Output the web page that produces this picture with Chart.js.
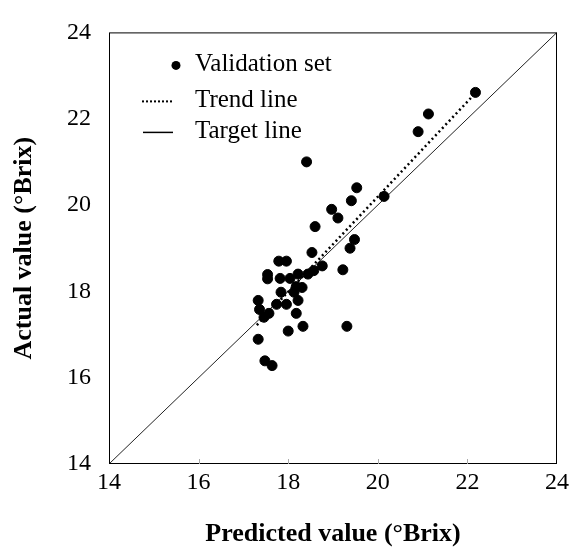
<!DOCTYPE html>
<html>
<head>
<meta charset="utf-8">
<script src="https://cdn.jsdelivr.net/npm/chart.js@4.4.0/dist/chart.umd.min.js"></script>
<style>
  html, body { margin: 0; padding: 0; background: #fff; }
  .setSize { width: 573px; height: 547px; }
</style>
</head>
<body>
<div class="setSize"><canvas id="brixChart"></canvas></div>
<script>
// validation set
const predicted = [18.41, 19.53, 19.41, 18.97, 19.11, 18.60, 19.48, 19.38, 18.53, 17.79,
                   17.96, 18.76, 18.57, 19.22, 18.44, 17.54, 17.54, 17.82, 18.04, 18.22,
                   18.18, 18.31, 17.84, 18.13, 18.22, 17.33, 17.74, 17.96, 17.36, 17.57,
                   17.46, 18.18, 18.33, 18.00, 19.31, 17.33, 17.48, 17.64, 22.18, 21.13,
                   20.90, 20.14];
const actual = [21.00, 20.40, 20.10, 19.90, 19.70, 19.50, 19.20, 19.00, 18.90, 18.70,
                18.70, 18.59, 18.48, 18.50, 18.40, 18.39, 18.29, 18.30, 18.30, 18.40,
                18.11, 18.09, 17.98, 17.98, 17.79, 17.79, 17.70, 17.70, 17.58, 17.49,
                17.40, 17.49, 17.19, 17.08, 17.19, 16.89, 16.39, 16.28, 22.61, 22.11,
                21.70, 20.20];
const trendX = [17.30, 22.15];
const trendY = [17.22, 22.56];
const targetX = [14, 24];
const targetY = [14, 24];
const tickValues = [14, 16, 18, 20, 22, 24];

const serif = "'Liberation Serif', 'Times New Roman', serif";

const toPoints = (xs, ys) => xs.map((x, i) => ({ x: x, y: ys[i] }));

// frame round the plot, small inner ticks and the key inside the plot
const frameAndKey = {
  id: 'frameAndKey',
  afterDraw(chart) {
    const { ctx, chartArea: a, scales } = chart;
    ctx.save();
    ctx.strokeStyle = '#000';
    ctx.lineWidth = 1;
    ctx.strokeRect(a.left + 0.5, a.top + 0.5, a.width - 1, a.height - 1);

    ctx.strokeStyle = '#aaa';
    tickValues.slice(1, -1).forEach(v => {
      const x = Math.round(scales.x.getPixelForValue(v)) + 0.5;
      ctx.beginPath();
      ctx.moveTo(x, a.bottom);
      ctx.lineTo(x, a.bottom - 5);
      ctx.stroke();
    });

    // key
    const ds = chart.data.datasets;
    const rows = [a.top + 32, a.top + 68, a.top + 99];
    const textX = a.left + 86;
    ctx.fillStyle = '#000';
    ctx.font = '25px ' + serif;
    ctx.textBaseline = 'middle';
    ctx.textAlign = 'left';

    ctx.beginPath();
    ctx.arc(a.left + 67, rows[0] + 1, 4.5, 0, Math.PI * 2);
    ctx.fill();
    ctx.fillText(ds[0].label, textX, rows[0]);

    ctx.strokeStyle = '#000';
    ctx.lineWidth = 2;
    ctx.setLineDash([2, 2]);
    ctx.beginPath();
    ctx.moveTo(a.left + 33, rows[1] + 1);
    ctx.lineTo(a.left + 63, rows[1] + 1);
    ctx.stroke();
    ctx.fillText(ds[1].label, textX, rows[1]);

    ctx.setLineDash([]);
    ctx.lineWidth = 1.5;
    ctx.beginPath();
    ctx.moveTo(a.left + 34, rows[2] + 1);
    ctx.lineTo(a.left + 64, rows[2] + 1);
    ctx.stroke();
    ctx.fillText(ds[2].label, textX, rows[2]);
    ctx.restore();
  }
};

new Chart(document.getElementById('brixChart'), {
  type: 'scatter',
  data: {
    datasets: [
      {
        label: 'Validation set',
        data: toPoints(predicted, actual),
        backgroundColor: '#000',
        borderColor: '#000',
        pointRadius: 5,
        order: 0
      },
      {
        label: 'Trend line',
        type: 'line',
        data: toPoints(trendX, trendY),
        borderColor: '#000',
        borderWidth: 2.5,
        borderDash: [2, 3],
        pointRadius: 0,
        fill: false,
        order: 1
      },
      {
        label: 'Target line',
        type: 'line',
        data: toPoints(targetX, targetY),
        borderColor: '#222',
        borderWidth: 1,
        pointRadius: 0,
        fill: false,
        order: 2
      }
    ]
  },
  options: {
    responsive: true,
    maintainAspectRatio: false,
    animation: false,
    layout: { padding: { top: 31, right: 14, left: 0, bottom: 0 } },
    plugins: {
      legend: { display: false },
      tooltip: { enabled: false }
    },
    scales: {
      x: {
        type: 'linear',
        min: 14,
        max: 24,
        afterFit: s => { s.height = 83; },
        afterBuildTicks: s => { s.ticks = tickValues.map(v => ({ value: v })); },
        grid: { display: false, drawTicks: false },
        border: { display: false },
        ticks: { color: '#000', padding: 4, font: { family: serif, size: 24 } },
        title: {
          display: true,
          text: 'Predicted value (°Brix)',
          color: '#000',
          padding: { top: 0, bottom: 0 },
          font: { family: serif, size: 26, weight: 'bold', lineHeight: 1 }
        }
      },
      y: {
        type: 'linear',
        min: 14,
        max: 24,
        afterFit: s => { s.width = 109; },
        afterBuildTicks: s => { s.ticks = tickValues.map(v => ({ value: v })); },
        grid: { display: false, drawTicks: false },
        border: { display: false },
        ticks: { color: '#000', padding: 18, font: { family: serif, size: 24 } },
        title: {
          display: true,
          text: 'Actual value (°Brix)',
          color: '#000',
          padding: { top: 11, bottom: 0 },
          font: { family: serif, size: 26, weight: 'bold', lineHeight: 1 }
        }
      }
    }
  },
  plugins: [frameAndKey]
});
</script>
</body>
</html>
